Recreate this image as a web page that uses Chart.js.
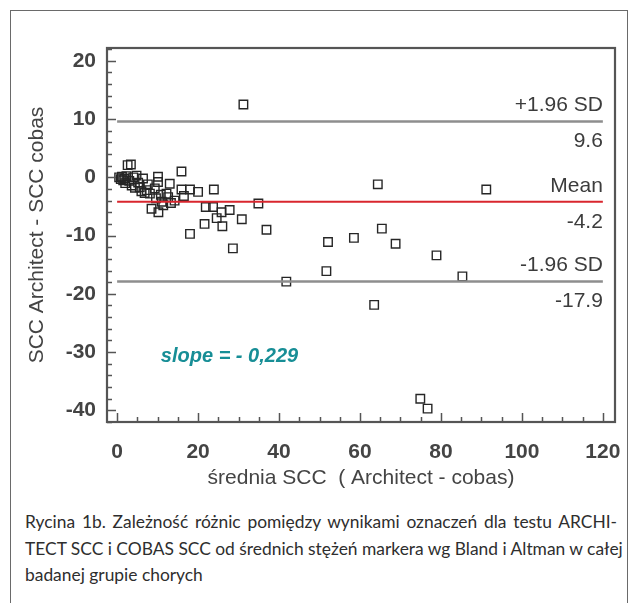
<!DOCTYPE html>
<html>
<head>
<meta charset="utf-8">
<script src="https://cdn.jsdelivr.net/npm/chart.js@4.4.0/dist/chart.umd.min.js"></script>
<style>
  html, body { margin: 0; padding: 0; background: #fff; }
  body { width: 638px; height: 603px; position: relative; overflow: hidden; }
  #frame { position: absolute; left: 10px; top: 10px; width: 616px; height: 620px; border: 1.5px solid #6a6a6a; border-bottom: none; }
  #wrap { position: absolute; left: 0; top: 0; width: 638px; height: 500px; }
  #caption { position: absolute; left: 25px; top: 509px; width: 592px; font-family: Lato, 'Open Sans', sans-serif; font-size: 17.4px; line-height: 26.5px; color: #2e2e2e; white-space: nowrap; }
  #caption .full { text-align: justify; text-align-last: justify; }
</style>
</head>
<body>
<div id="frame"></div>
<div id="wrap"><canvas id="chart" width="638" height="500"></canvas></div>
<div id="caption">
  <div class="full">Rycina 1b. Zależność różnic pomiędzy wynikami oznaczeń dla testu ARCHI-</div>
  <div class="full">TECT SCC i COBAS SCC od średnich stężeń markera wg Bland i Altman w całej</div>
  <div>badanej grupie chorych</div>
</div>
<script>
'use strict';

// mean of the two methods (x) and their difference (y)
var meanValues = [0.5, 0.9, 1.2, 1.5, 1.8, 2.3, 2.0, 2.6, 3.4, 3.0, 3.6, 4.0, 4.4, 4.8, 5.2, 5.6, 6.0, 6.4, 6.8, 7.3,
  7.6, 8.1, 8.5, 9.3, 9.6, 10.1, 10.1, 10.2, 10.8, 11.0, 11.4, 12.2, 12.6, 13.0, 13.3, 14.2, 15.9, 15.9, 16.5, 18.0,
  18.0, 20.0, 21.6, 21.9, 23.7, 23.9, 24.6, 25.8, 26.0, 27.8, 28.6, 30.8, 31.2, 34.9, 36.9, 41.8, 51.7, 52.1, 58.5, 63.5,
  64.4, 65.4, 68.8, 74.9, 76.7, 78.9, 85.3, 91.2];
var diffValues = [0.0, -0.3, 0.1, -0.5, -0.2, 0.2, -1.0, 2.1, 2.2, -0.6, -1.4, 0.0, -1.8, 0.3, -0.9, -1.7, -2.4, -0.2, -2.7, -2.2,
  -1.2, -2.8, -5.4, -1.9, -3.6, 0.1, -0.8, -6.0, -3.0, -4.2, -4.8, -2.8, -3.4, -1.1, -4.4, -4.0, 1.0, -2.1, -3.2, -2.1,
  -9.7, -2.5, -8.0, -5.1, -5.1, -2.1, -7.0, -6.0, -8.4, -5.6, -12.2, -7.2, 12.5, -4.5, -9.0, -17.9, -16.1, -11.1, -10.4, -21.9,
  -1.2, -8.8, -11.4, -38.0, -39.7, -13.4, -17.0, -2.1];

// Bland-Altman reference lines
var upperLimit = 9.6;
var meanDiff = -4.2;
var lowerLimit = -17.9;
var lineRange = [0, 120];

// axis tick labels
var xTicks = [0, 20, 40, 60, 80, 100, 120];
var yTicks = [-40, -30, -20, -10, 0, 10, 20];

var slopeText = 'slope = - 0,229';
var xTitle = 'średnia SCC  ( Architect - cobas)';
var yTitle = 'SCC Architect - SCC cobas';

function hLine(value) {
  return lineRange.map(function (x) { return { x: x, y: value }; });
}

var points = meanValues.map(function (x, i) { return { x: x, y: diffValues[i] }; });

// frame, inward tick marks and line labels
var decorations = {
  id: 'decorations',
  afterDraw: function (chart) {
    var ctx = chart.ctx;
    var area = chart.chartArea;
    var xs = chart.scales.x;
    var ys = chart.scales.y;
    ctx.save();
    ctx.strokeStyle = '#555';
    ctx.lineWidth = 1.5;
    var v, p, len;
    ctx.beginPath();
    for (v = 0; v <= 120; v += 5) {
      p = Math.round(xs.getPixelForValue(v)) + 0.5;
      len = v % 20 === 0 ? 9 : 5;
      ctx.moveTo(p, area.bottom);
      ctx.lineTo(p, area.bottom - len);
    }
    for (v = -42; v <= 22; v += 2) {
      p = Math.round(ys.getPixelForValue(v)) + 0.5;
      len = v % 10 === 0 ? 9 : 5;
      ctx.moveTo(area.left, p);
      ctx.lineTo(area.left + len, p);
    }
    ctx.stroke();

    ctx.lineWidth = 2.2;
    ctx.strokeStyle = '#555';
    ctx.strokeRect(area.left, area.top, area.right - area.left, area.bottom - area.top);

    // labels next to the reference lines
    var rx = xs.getPixelForValue(lineRange[1]);
    ctx.fillStyle = '#3c3c3c';
    ctx.font = '21px "Liberation Sans", Arial, sans-serif';
    ctx.textAlign = 'right';
    ctx.textBaseline = 'middle';
    var labels = [['+1.96 SD', upperLimit.toFixed(1), upperLimit], ['Mean', meanDiff.toFixed(1), meanDiff], ['-1.96 SD', lowerLimit.toFixed(1), lowerLimit]];
    labels.forEach(function (l) {
      var py = ys.getPixelForValue(l[2]);
      ctx.fillText(l[0], rx, py - 16);
      ctx.fillText(l[1], rx, py + 20);
    });

    ctx.fillStyle = '#178e96';
    ctx.font = 'italic bold 20px "Liberation Sans", Arial, sans-serif';
    ctx.textAlign = 'left';
    ctx.fillText(slopeText, xs.getPixelForValue(10.8), ys.getPixelForValue(-30.8));
    ctx.restore();
  }
};

var ctx = document.getElementById('chart').getContext('2d');
var chart = new Chart(ctx, {
  type: 'scatter',
  data: {
    datasets: [
      { type: 'line', data: hLine(upperLimit), borderColor: '#8e8e8e', borderWidth: 2.5, pointRadius: 0, order: 0 },
      { type: 'line', data: hLine(meanDiff), borderColor: '#d9262e', borderWidth: 2, pointRadius: 0, order: 0 },
      { type: 'line', data: hLine(lowerLimit), borderColor: '#8e8e8e', borderWidth: 2.5, pointRadius: 0, order: 0 },
      {
        data: points,
        pointStyle: 'rect',
        pointRadius: 6,
        borderColor: '#262626',
        borderWidth: 1.4,
        backgroundColor: 'rgba(0,0,0,0)',
        order: 1
      }
    ]
  },
  options: {
    responsive: false,
    animation: false,
    devicePixelRatio: 1,
    layout: { padding: { left: 0, top: 48, right: 23, bottom: 0 } },
    plugins: { legend: { display: false }, tooltip: { enabled: false } },
    scales: {
      x: {
        type: 'linear',
        min: -2.5,
        max: 123,
        afterFit: function (scale) { scale.height = 78; },
        afterBuildTicks: function (scale) { scale.ticks = xTicks.map(function (v) { return { value: v }; }); },
        grid: { display: false },
        border: { display: false },
        ticks: { padding: 10, color: '#444', font: { family: '"Liberation Sans", Arial', size: 21, weight: 'bold' } },
        title: { display: true, text: xTitle, color: '#444', padding: { top: 0, bottom: 9 }, font: { family: '"Liberation Sans", Arial', size: 21 } }
      },
      y: {
        type: 'linear',
        min: -42,
        max: 22.2,
        afterFit: function (scale) { scale.width = 107; },
        afterBuildTicks: function (scale) { scale.ticks = yTicks.map(function (v) { return { value: v }; }); },
        grid: { display: false },
        border: { display: false },
        ticks: { padding: 3, color: '#444', font: { family: '"Liberation Sans", Arial', size: 21, weight: 'bold' } },
        title: { display: true, text: yTitle, color: '#444', padding: { top: 25, bottom: 0 }, font: { family: '"Liberation Sans", Arial', size: 21 } }
      }
    }
  },
  plugins: [decorations]
});
</script>
</body>
</html>
